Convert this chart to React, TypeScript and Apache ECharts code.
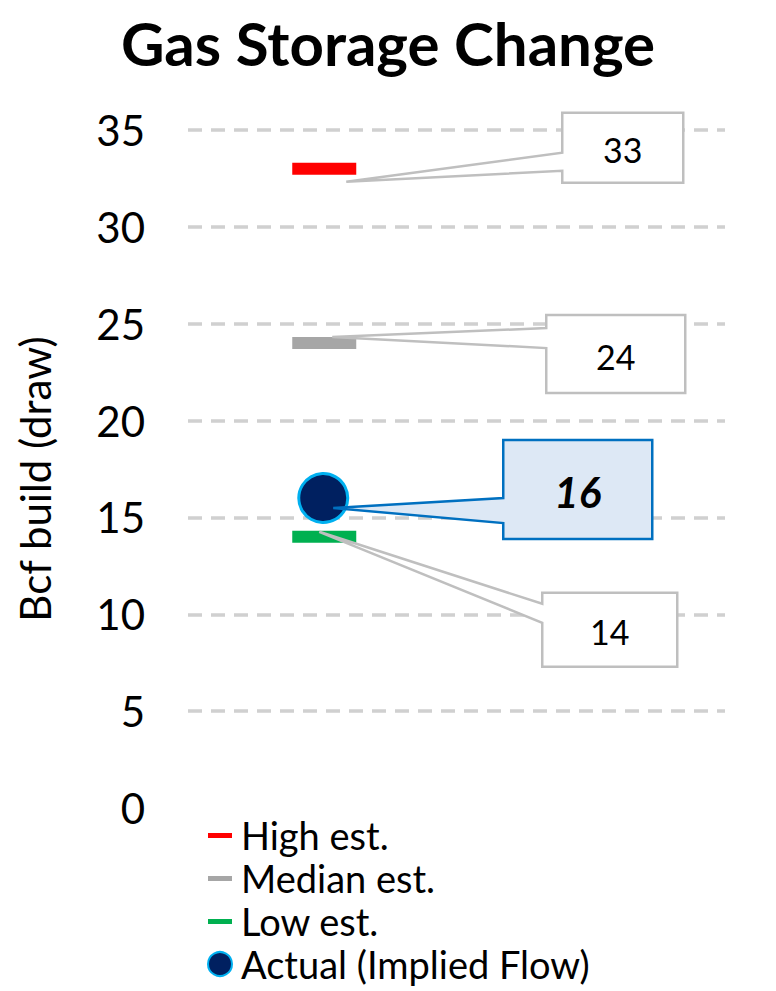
import React, { useEffect, useRef } from "react";
import * as echarts from "echarts";

const categories = ["This week", " "];
const highEst: (number | null)[] = [33, null];
const medianEst: (number | null)[] = [24, null];
const lowEst: (number | null)[] = [14, null];
const actual: (number | null)[] = [16, null];
const seriesNames = ["High est.", "Median est.", "Low est.", "Actual (Implied Flow)"];
const yMin = 0;
const yMax = 35;
const yStep = 5;

const FONT = "Lato, 'Open Sans', sans-serif";
const lineIcon = "path://M0,0M0,10L24,10L24,15L0,15ZM24,24";

export default function App() {
  const ref = useRef<HTMLDivElement>(null);
  useEffect(() => {
    if (!ref.current) return;
    const chart = echarts.init(ref.current, undefined, { renderer: "svg" });
    const barSeries = (name: string, data: (number | null)[], color: string) => ({
      name,
      type: "scatter",
      data,
      symbol: "rect",
      symbolSize: [64, 12],
      symbolOffset: [2, 0],
      itemStyle: { color, opacity: 1 },
      z: 3,
    });
    chart.setOption({
      animation: false,
      title: {
        text: "Gas Storage Change",
        left: "center",
        top: 8,
        textStyle: { fontFamily: FONT, fontSize: 60, fontWeight: "bold", color: "#000" },
      },
      grid: { left: 188, right: 51, top: 130, bottom: 183 },
      xAxis: {
        type: "category",
        data: categories,
        show: false,
      },
      yAxis: {
        type: "value",
        min: yMin,
        max: yMax,
        interval: yStep,
        name: "Bcf build (draw)",
        nameLocation: "middle",
        nameRotate: 90,
        nameGap: 132,
        nameTextStyle: { fontFamily: FONT, fontSize: 42, color: "#000", padding: [0, 20, 0, 0] },
        axisLine: { show: false },
        axisTick: { show: false },
        axisLabel: { fontFamily: FONT, fontSize: 42, color: "#000", margin: 43 },
        splitLine: {
          show: true,
          showMinLine: false,
          lineStyle: { color: "#d0d0d0", width: 3.5, type: [14, 9] },
        },
      },
      legend: {
        orient: "vertical",
        left: 207,
        top: 815,
        padding: 0,
        itemWidth: 24,
        itemHeight: 24,
        itemGap: 3,
        textStyle: { fontFamily: FONT, fontSize: 38, color: "#000", lineHeight: 40, padding: [0, 0, 0, 4] },
        data: [
          { name: seriesNames[0], icon: lineIcon },
          { name: seriesNames[1], icon: lineIcon },
          { name: seriesNames[2], icon: lineIcon },
          { name: seriesNames[3], icon: "circle" },
        ],
      },
      series: [
        barSeries(seriesNames[0], highEst, "#ff0000"),
        barSeries(seriesNames[1], medianEst, "#a6a6a6"),
        barSeries(seriesNames[2], lowEst, "#00b050"),
        {
          name: seriesNames[3],
          type: "scatter",
          data: actual,
          symbol: "circle",
          symbolSize: 49,
          symbolOffset: [1, 0],
          itemStyle: { color: "#002060", borderColor: "#00b0f0", borderWidth: 3, opacity: 1 },
          z: 4,
        },
      ],
    });

    // callouts anchored to data points
    const callouts = [
      { s: 0, v: highEst[0] as number, tip: [24, 13], box: [240, -56, 121, 70], att: [40, 58], fill: "#fff", stroke: "#bfbfbf", bold: false },
      { s: 1, v: medianEst[0] as number, tip: [10, -6], box: [224, -28, 139, 78], att: [13, 33], fill: "#fff", stroke: "#bfbfbf", bold: false },
      { s: 3, v: actual[0] as number, tip: [11, 10], box: [181, -58, 149, 99], att: [58, 83], fill: "#dde8f5", stroke: "#0070c0", bold: true },
      { s: 2, v: lowEst[0] as number, tip: [-3, -5], box: [220, 56, 135, 74], att: [11, 30], fill: "#fff", stroke: "#bfbfbf", bold: false },
    ];
    const graphics: any[] = [];
    callouts.forEach((c) => {
      const p = chart.convertToPixel({ seriesIndex: c.s }, [0, c.v]) as number[];
      const [bx, by, bw, bh] = [p[0] + c.box[0], p[1] + c.box[1], c.box[2], c.box[3]];
      const tx = p[0] + c.tip[0];
      const ty = p[1] + c.tip[1];
      graphics.push({
        type: "polygon",
        z: 10,
        shape: {
          points: [
            [bx, by],
            [bx + bw, by],
            [bx + bw, by + bh],
            [bx, by + bh],
            [bx, by + c.att[1]],
            [tx, ty],
            [bx, by + c.att[0]],
          ],
        },
        style: { fill: c.fill, stroke: c.stroke, lineWidth: 2.5, lineJoin: "miter" },
      });
      graphics.push({
        type: "text",
        z: 11,
        x: bx + bw / 2,
        y: by + bh / 2 + 2,
        style: {
          text: String(c.v),
          fontFamily: FONT,
          fontSize: c.bold ? 42 : 34,
          fontWeight: c.bold ? "bold" : "normal",
          fontStyle: c.bold ? "italic" : "normal",
          fill: "#000",
          align: "center",
          verticalAlign: "middle",
        },
      });
    });
    chart.setOption({ graphic: graphics });
    return () => chart.dispose();
  }, []);
  return <div ref={ref} style={{ width: 776, height: 991, position: "absolute", left: 0, top: 0 }} />;
}
